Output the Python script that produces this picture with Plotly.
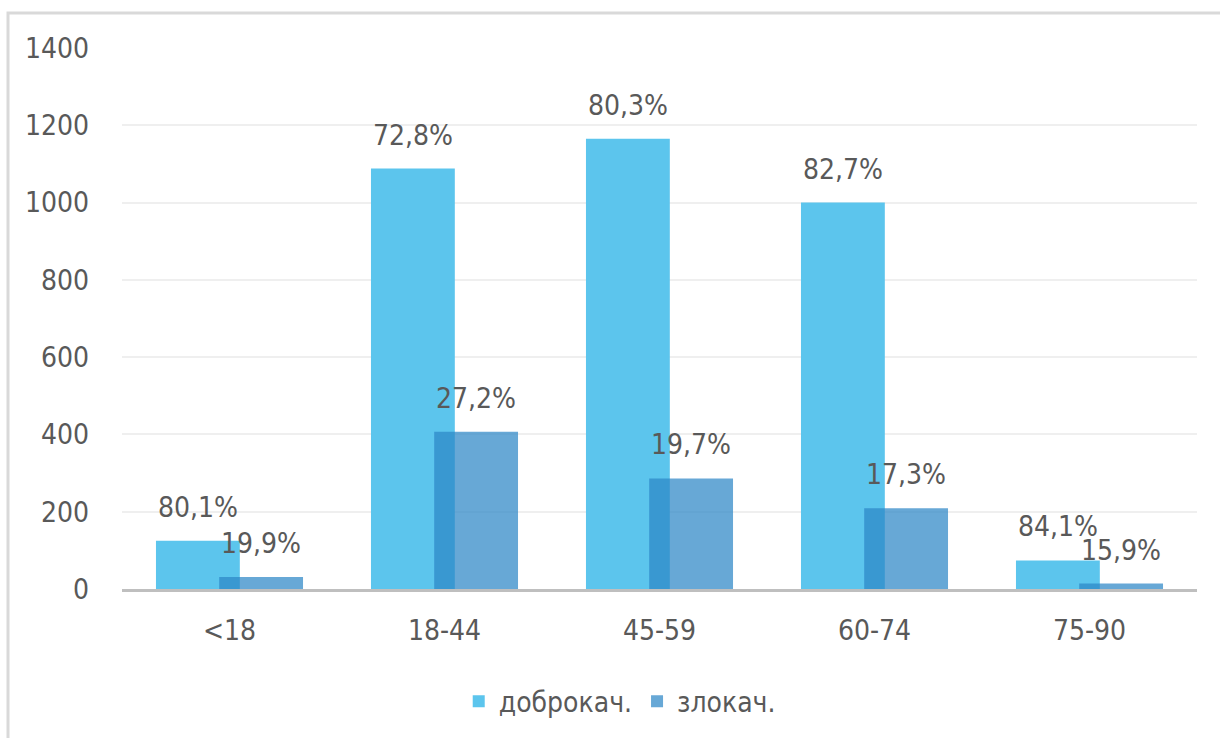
import plotly.graph_objects as go

categories = ["<18", "18-44", "45-59", "60-74", "75-90"]
benign = [125, 1088, 1165, 1000, 74]
malignant = [31, 407, 286, 209, 14]
series_names = ["доброкач.", "злокач."]
y_ticks = [0, 200, 400, 600, 800, 1000, 1200, 1400]

FONT = "DejaVu Sans Condensed, Liberation Sans Narrow, Roboto, sans-serif"
TXT = "#595959"
W = 0.39
SHIFT = 0.147

def pct(a, b):
    return f"{a / (a + b) * 100:.1f}%".replace(".", ",")

fig = go.Figure()
fig.add_trace(go.Bar(x=categories, y=benign, name=series_names[0],
                     marker=dict(color="rgb(92,197,237)", line=dict(width=0)),
                     width=W, offset=-SHIFT - W / 2))
fig.add_trace(go.Bar(x=categories, y=malignant, name=series_names[1],
                     marker=dict(color="rgba(45,135,198,0.72)", line=dict(width=0)),
                     width=W, offset=SHIFT - W / 2))

ann = []
for i, (b, m) in enumerate(zip(benign, malignant)):
    ann.append(dict(x=i - SHIFT, y=b, xref="x", yref="y", text=pct(b, m),
                    showarrow=False, yanchor="bottom", yshift=15,
                    font=dict(family=FONT, size=28, color=TXT)))
    ann.append(dict(x=i + SHIFT, y=m, xref="x", yref="y", text=pct(m, b),
                    showarrow=False, yanchor="bottom", yshift=15,
                    font=dict(family=FONT, size=28, color=TXT)))

fig.update_layout(
    width=1220, height=738,
    margin=dict(l=122, r=23, t=48, b=149, autoexpand=False),
    paper_bgcolor="white", plot_bgcolor="white",
    barmode="overlay",
    font=dict(family=FONT, size=28, color=TXT),
    annotations=ann,
    showlegend=True,
    legend=dict(orientation="h", x=0.463, xanchor="center", y=-0.208, yanchor="middle",
                font=dict(family=FONT, size=28, color=TXT), itemwidth=30),
    shapes=[dict(type="rect", xref="paper", yref="paper",
                 x0=(8 - 122) / 1075, x1=(1240 - 122) / 1075,
                 y0=-(760 - 589) / 541, y1=(589 - 13) / 541,
                 line=dict(color="#d9d9d9", width=3), fillcolor="rgba(0,0,0,0)",
                 layer="below")],
    xaxis=dict(type="category", showgrid=False, showline=True, linecolor="#bfbfbf",
               linewidth=3, ticks="", tickfont=dict(size=28, color=TXT),
               ticklabelstandoff=14, range=[-0.5, 4.5]),
    yaxis=dict(range=[0, 1400], tickvals=y_ticks, showgrid=True, gridcolor="#efefef",
               gridwidth=2, zeroline=False, showline=False, ticks="",
               tickfont=dict(size=28, color=TXT), ticklabelstandoff=32),
)

fig.write_html("out.html")
